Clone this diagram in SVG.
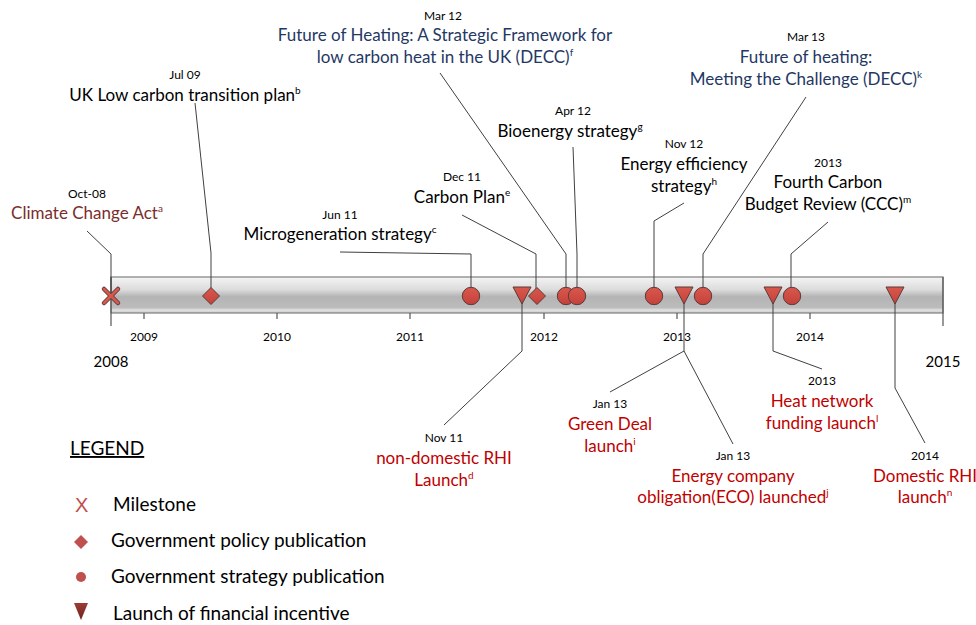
<svg xmlns="http://www.w3.org/2000/svg" width="976" height="625" viewBox="0 0 976 625">
<defs>
<linearGradient id="bar" x1="0" y1="0" x2="0" y2="1">
<stop offset="0" stop-color="#f4f4f4"/>
<stop offset="0.35" stop-color="#dcdcdc"/>
<stop offset="0.55" stop-color="#b4b4b4"/>
<stop offset="0.85" stop-color="#bcbcbc"/>
<stop offset="0.92" stop-color="#e2e2e2"/>
<stop offset="1" stop-color="#c8c8c8"/>
</linearGradient>
<linearGradient id="mk" x1="0" y1="0" x2="0" y2="1">
<stop offset="0" stop-color="#d9584c"/>
<stop offset="1" stop-color="#c4413a"/>
</linearGradient>
<linearGradient id="lt" x1="0" y1="0" x2="0" y2="1">
<stop offset="0" stop-color="#9e3a34"/>
<stop offset="1" stop-color="#6e2420"/>
</linearGradient>
</defs>
<style>
text{font-family:Lato,"Liberation Sans",sans-serif;fill:#000}
.d{font-size:12px;text-anchor:middle}
.t{font-size:17px;text-anchor:middle}
.br{fill:#7a2e2b}
.bl{fill:#1f3864}
.rd{fill:#c00000}
.yr{font-size:12px;text-anchor:middle}
.yb{font-size:15px;text-anchor:middle}
.lg{font-size:19px}
.c{fill:none;stroke:#404040;stroke-width:1}
.m{fill:url(#mk);stroke:#5b3b3b;stroke-width:1}
.tk{stroke:#555;stroke-width:1.2}
</style>
<rect width="976" height="625" fill="#fff"/>

<g id="timeline">
<rect x="111" y="277" width="832" height="36" fill="url(#bar)" stroke="#7f7f7f" stroke-width="1.2"/>
<line class="tk" x1="111" y1="277" x2="111" y2="326"/>
<line class="tk" x1="943" y1="277" x2="943" y2="326"/>
<line class="tk" x1="144" y1="313" x2="144" y2="319"/>
<line class="tk" x1="277" y1="313" x2="277" y2="319"/>
<line class="tk" x1="410" y1="313" x2="410" y2="319"/>
<line class="tk" x1="544" y1="313" x2="544" y2="319"/>
<line class="tk" x1="677" y1="313" x2="677" y2="319"/>
<line class="tk" x1="810" y1="313" x2="810" y2="319"/>
<text class="yr" x="144" y="341">2009</text>
<text class="yr" x="277" y="341">2010</text>
<text class="yr" x="410" y="341">2011</text>
<text class="yr" x="544" y="341">2012</text>
<text class="yr" x="677" y="341">2013</text>
<text class="yr" x="810" y="341">2014</text>
<text class="yb" x="111" y="367">2008</text>
<text class="yb" x="943" y="367">2015</text>
</g>

<g id="connectors">
<polyline class="c" points="87,231 111,254 111,296"/>
<polyline class="c" points="195,103 211,253 211,296"/>
<polyline class="c" points="340,252 471,254 471,296"/>
<polyline class="c" points="462,215 536,254 536,296"/>
<polyline class="c" points="440,73 566,254 566,296"/>
<polyline class="c" points="573,147 577,254 577,296"/>
<polyline class="c" points="684,203 654,221 654,296"/>
<polyline class="c" points="806,97 703,254 703,296"/>
<polyline class="c" points="828,222 791,254 791,296"/>
<polyline class="c" points="522,296 522,351 444,425"/>
<polyline class="c" points="684,296 684,351 610,392"/>
<polyline class="c" points="684,351 733,444"/>
<polyline class="c" points="773,296 773,351 822,369"/>
<polyline class="c" points="895,296 895,388 925,443"/>
</g>

<g id="markers">
<g id="m-cca" stroke="#5b3b3b" stroke-width="4.5" stroke-linecap="round"><line x1="104" y1="289" x2="118" y2="303"/><line x1="118" y1="289" x2="104" y2="303"/></g>
<g id="m-cca2" stroke="#d9584c" stroke-width="2.8" stroke-linecap="round"><line x1="104" y1="289" x2="118" y2="303"/><line x1="118" y1="289" x2="104" y2="303"/></g>
<polygon id="m-ukl" class="m" points="211,287.5 219.5,296 211,304.5 202.5,296"/>
<circle id="m-micro" class="m" cx="471" cy="296" r="8.7"/>
<polygon id="m-ndrhi" class="m" points="513,287 531,287 522,304"/>
<polygon id="m-carbon" class="m" points="537,287.5 545.5,296 537,304.5 528.5,296"/>
<circle id="m-foh" class="m" cx="566" cy="296" r="8.7"/>
<circle id="m-bio" class="m" cx="577" cy="296" r="8.7"/>
<circle id="m-ee" class="m" cx="654" cy="296" r="8.7"/>
<polygon id="m-jan13" class="m" points="675,287 693,287 684,304"/>
<circle id="m-foh13" class="m" cx="703" cy="296" r="8.7"/>
<polygon id="m-heat" class="m" points="764,287 782,287 773,304"/>
<circle id="m-ccc" class="m" cx="792" cy="296" r="8.7"/>
<polygon id="m-drhi" class="m" points="886,287 904,287 895,304"/>
</g>

<g id="n-cca"><text class="d" x="87" y="198">Oct-08</text><text class="t br" x="87" y="219">Climate Change Act<tspan font-size="10" dy="-7">a</tspan></text></g>
<g id="n-ukl"><text class="d" x="185" y="79">Jul 09</text><text class="t" x="185" y="101">UK Low carbon transition plan<tspan font-size="10" dy="-7">b</tspan></text></g>
<g id="n-foh"><text class="d" x="443" y="20">Mar 12</text><text class="t bl" x="445" y="41">Future of Heating: A Strategic Framework for</text><text class="t bl" x="445" y="63">low carbon heat in the UK (DECC)<tspan font-size="10" dy="-7">f</tspan></text></g>
<g id="n-micro"><text class="d" x="340" y="219">Jun 11</text><text class="t" x="340" y="240">Microgeneration strategy<tspan font-size="10" dy="-7">c</tspan></text></g>
<g id="n-carbon"><text class="d" x="462" y="181">Dec 11</text><text class="t" x="462" y="203">Carbon Plan<tspan font-size="10" dy="-7">e</tspan></text></g>
<g id="n-bio"><text class="d" x="573" y="115">Apr 12</text><text class="t" x="570" y="137">Bioenergy strategy<tspan font-size="10" dy="-7">g</tspan></text></g>
<g id="n-ee"><text class="d" x="684" y="148">Nov 12</text><text class="t" x="684" y="170">Energy efficiency</text><text class="t" x="684" y="192">strategy<tspan font-size="10" dy="-7">h</tspan></text></g>
<g id="n-foh13"><text class="d" x="806" y="41">Mar 13</text><text class="t bl" x="806" y="63">Future of heating:</text><text class="t bl" x="806" y="85">Meeting the Challenge (DECC)<tspan font-size="10" dy="-7">k</tspan></text></g>
<g id="n-ccc"><text class="d" x="828" y="167">2013</text><text class="t" x="828" y="188">Fourth Carbon</text><text class="t" x="828" y="210">Budget Review (CCC)<tspan font-size="10" dy="-7">m</tspan></text></g>

<g id="n-ndrhi"><text class="d" x="444" y="442">Nov 11</text><text class="t rd" x="444" y="464">non-domestic RHI</text><text class="t rd" x="444" y="486">Launch<tspan font-size="10" dy="-7">d</tspan></text></g>
<g id="n-gd"><text class="d" x="610" y="408">Jan 13</text><text class="t rd" x="610" y="430">Green Deal</text><text class="t rd" x="610" y="452">launch<tspan font-size="10" dy="-7">i</tspan></text></g>
<g id="n-eco"><text class="d" x="733" y="460">Jan 13</text><text class="t rd" x="733" y="482">Energy company</text><text class="t rd" x="733" y="503">obligation(ECO) launched<tspan font-size="10" dy="-7">j</tspan></text></g>
<g id="n-heat"><text class="d" x="822" y="385">2013</text><text class="t rd" x="822" y="407">Heat network</text><text class="t rd" x="822" y="429">funding launch<tspan font-size="10" dy="-7">l</tspan></text></g>
<g id="n-drhi"><text class="d" x="925" y="460">2014</text><text class="t rd" x="925" y="482">Domestic RHI</text><text class="t rd" x="925" y="503">launch<tspan font-size="10" dy="-7">n</tspan></text></g>

<g id="legend">
<text class="lg" x="70" y="455" text-decoration="underline">LEGEND</text>
<text x="75" y="512" font-size="20" fill="#c0504d" style="fill:#c0504d;font-family:'Liberation Sans',sans-serif">X</text>
<text class="lg" x="113" y="511">Milestone</text>
<polygon points="81,535 88,542 81,549 74,542" fill="#c0504d"/>
<text class="lg" x="111" y="547">Government policy publication</text>
<circle cx="81" cy="577" r="5" fill="#c0504d"/>
<text class="lg" x="111" y="583">Government strategy publication</text>
<polygon points="74,603 88,603 81,620" fill="url(#lt)"/>
<text class="lg" x="113" y="620">Launch of financial incentive</text>
</g>
</svg>
